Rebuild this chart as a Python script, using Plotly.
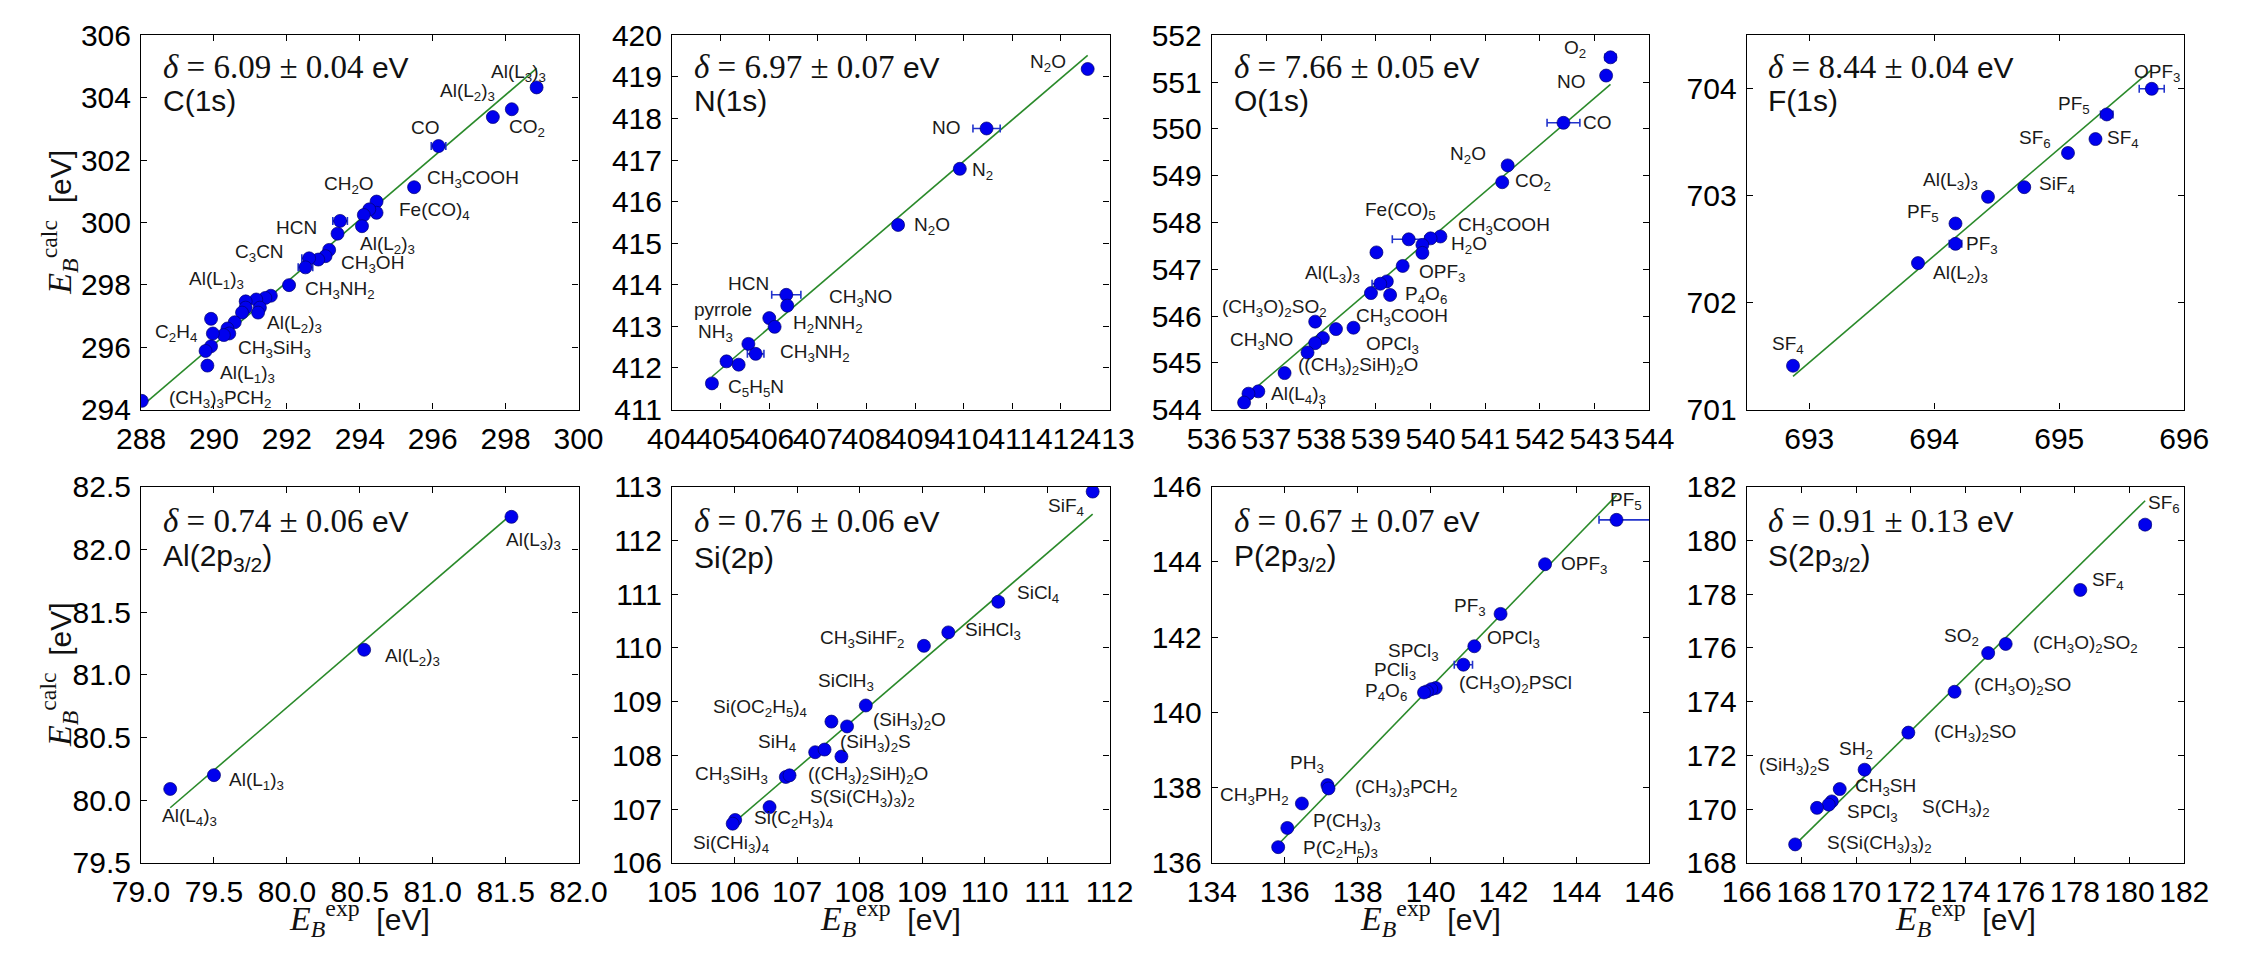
import re
import math
import plotly.graph_objects as go

# ---------------- data ----------------
# C(1s)
C_x = [298.85, 297.65, 298.17, 296.16, 295.49, 294.46, 294.46, 294.26, 294.11, 294.06, 293.46, 293.39,
       293.16, 293.06, 292.86, 292.61, 292.51, 292.06, 291.56, 291.41, 291.16, 291.26, 291.21, 290.87,
       290.87, 290.77, 290.57, 290.37, 290.42, 290.27, 289.92, 289.97, 289.92, 289.77, 289.82, 288.02]
C_y = [304.33, 303.38, 303.63, 302.45, 301.13, 300.67, 300.31, 300.42, 300.24, 299.88, 300.05, 299.64,
       299.12, 298.92, 298.81, 298.85, 298.56, 297.99, 297.65, 297.58, 297.53, 297.27, 297.11, 297.47,
       297.27, 297.11, 296.80, 296.60, 296.44, 296.39, 296.91, 296.44, 296.03, 295.88, 295.41, 294.28]
C_err = [None, None, None, 0.2, None, None, None, 0.1, None, None, 0.2, None,
         None, None, None, 0.2, 0.2, None, None, None, None, None, None, None,
         None, None, None, None, None, None, None, None, None, None, None, None]
C_lab = ["Al(L_3)_3", "Al(L_2)_3", "CO_2", "CO", "CH_3COOH", "CH_2O", "Fe(CO)_4", "HCN", "Al(L_2)_3",
         "C_3CN", "CH_3OH", "Al(L_1)_3", "CH_3NH_2", "Al(L_2)_3", "C_2H_4", "CH_3SiH_3", "Al(L_1)_3",
         "(CH_3)_3PCH_2"]
C_lab_x = [298.35, 296.95, 298.60, 295.79, 297.10, 293.71, 296.06, 292.26, 294.76,
           291.26, 294.36, 290.07, 293.46, 292.21, 288.97, 291.66, 290.91, 290.17]
C_lab_y = [304.79, 304.18, 303.04, 303.04, 301.39, 301.19, 300.36, 299.85, 299.28,
           299.02, 298.66, 298.14, 297.84, 296.75, 296.44, 295.93, 295.15, 294.33]

# N(1s)
N_x = [412.55, 410.47, 409.92, 408.65, 406.35, 406.37, 406.00, 406.11, 405.57, 405.72, 405.12, 405.37, 404.82]
N_y = [419.19, 417.76, 416.79, 415.44, 413.76, 413.50, 413.20, 412.99, 412.58, 412.34, 412.16, 412.08, 411.63]
N_err = [None, 0.28, None, 0.1, 0.3, None, None, None, None, 0.17, None, None, 0.1]
N_lab = ["N_2O", "NO", "N_2", "N_2O", "HCN", "CH_3NO", "pyrrole", "H_2NNH_2", "NH_3", "CH_3NH_2", "C_5H_5N"]
N_lab_x = [411.73, 409.64, 410.39, 409.34, 405.57, 407.88, 405.05, 407.21, 404.90, 406.95, 405.72]
N_lab_y = [419.33, 417.78, 416.74, 415.42, 414.03, 413.68, 413.41, 413.06, 412.83, 412.37, 411.52]

# O(1s)
O_x = [543.29, 543.21, 542.43, 541.41, 541.31, 540.18, 540.00, 539.60, 539.85, 539.85, 539.01, 539.49, 539.20,
       539.08, 538.91, 539.26, 537.89, 538.27, 538.59, 538.03, 537.89, 537.75, 537.33, 536.85, 536.67, 536.59]
O_y = [551.53, 551.14, 550.13, 549.22, 548.86, 547.70, 547.66, 547.64, 547.52, 547.35, 547.36, 547.07, 546.74,
       546.69, 546.49, 546.45, 545.88, 545.72, 545.75, 545.53, 545.42, 545.22, 544.78, 544.39, 544.34, 544.15]
O_err = [0.1, 0.08, 0.3, None, None, None, None, 0.3, None, None, None, None, None,
         0.15, None, None, None, None, None, None, None, None, None, None, None, None]
O_lab = ["O_2", "NO", "CO", "N_2O", "CO_2", "Fe(CO)_5", "CH_3COOH", "H_2O", "Al(L_3)_3", "OPF_3", "P_4O_6",
         "(CH_3O)_2SO_2", "CH_3COOH", "CH_3NO", "OPCl_3", "((CH_3)_2SiH)_2O", "Al(L_4)_3"]
O_lab_x = [542.65, 542.58, 543.05, 540.68, 541.88, 539.45, 541.35, 540.71, 538.21, 540.21, 539.91,
           537.15, 539.48, 536.91, 539.31, 538.68, 537.58]
O_lab_y = [551.71, 551.02, 550.13, 549.44, 548.86, 548.24, 547.93, 547.52, 546.90, 546.93, 546.45,
           546.18, 545.97, 545.46, 545.39, 544.94, 544.32]

# F(1s)
F_x = [695.74, 695.38, 695.29, 695.07, 694.72, 694.43, 694.17, 694.17, 693.87, 692.87]
F_y = [704.00, 703.76, 703.53, 703.40, 703.08, 702.99, 702.74, 702.55, 702.37, 701.41]
F_err = [0.1, 0.05, None, None, None, None, 0.03, 0.05, None, None]
F_lab = ["OPF_3", "PF_5", "SF_4", "SF_6", "SiF_4", "Al(L_3)_3", "PF_5", "PF_3", "Al(L_2)_3", "SF_4"]
F_lab_x = [695.78, 695.12, 695.51, 694.81, 694.98, 694.13, 693.91, 694.38, 694.21, 692.83]
F_lab_y = [704.15, 703.85, 703.53, 703.53, 703.10, 703.14, 702.84, 702.54, 702.27, 701.60]

# Al(2p3/2)
Al_x = [81.54, 80.53, 79.50, 79.20]
Al_y = [82.26, 81.20, 80.20, 80.09]
Al_err = [None, None, None, None]
Al_lab = ["Al(L_3)_3", "Al(L_2)_3", "Al(L_1)_3", "Al(L_4)_3"]
Al_lab_x = [81.69, 80.86, 79.79, 79.33]
Al_lab_y = [82.07, 81.14, 80.15, 79.87]

# Si(2p)
Si_x = [111.73, 110.22, 109.42, 109.03, 108.10, 107.55, 107.80, 107.29, 107.44, 107.71, 106.82, 106.88,
        106.56, 106.01, 105.97]
Si_y = [112.91, 110.86, 110.29, 110.04, 108.93, 108.63, 108.54, 108.06, 108.11, 107.98, 107.60, 107.63,
        107.04, 106.80, 106.73]
Si_err = [None, 0.08, None, None, None, None, None, None, None, None, None, None, None, None, None]
Si_lab = ["SiF_4", "SiCl_4", "SiHCl_3", "CH_3SiHF_2", "SiClH_3", "Si(OC_2H_5)_4", "(SiH_3)_2O", "SiH_4",
          "(SiH_3)_2S", "CH_3SiH_3", "((CH_3)_2SiH)_2O", "S(Si(CH_3)_3)_2", "Si(C_2H_3)_4", "Si(CHi_3)_4"]
Si_lab_x = [111.30, 110.86, 110.14, 108.04, 107.78, 106.41, 108.80, 106.68, 108.25, 105.95, 108.13,
            108.04, 106.94, 105.95]
Si_lab_y = [112.63, 111.00, 110.31, 110.16, 109.37, 108.89, 108.65, 108.23, 108.23, 107.63, 107.63,
            107.20, 106.81, 106.36]

# P(2p3/2)
P_x = [145.10, 143.14, 141.92, 141.20, 140.90, 140.14, 140.02, 139.90, 139.82, 137.17, 137.20, 136.47,
       136.07, 135.82]
P_y = [145.12, 143.94, 142.62, 141.76, 141.27, 140.65, 140.62, 140.56, 140.53, 138.07, 137.98, 137.58,
       136.93, 136.42]
P_err = [0.48, None, 0.05, 0.1, 0.25, None, None, None, None, 0.05, None, None, 0.1, None]
P_err_plus = [0.95, None, 0.05, 0.1, 0.25, None, None, None, None, 0.05, None, None, 0.1, None]
P_lab = ["PF_5", "OPF_3", "PF_3", "OPCl_3", "SPCl_3", "PCli_3", "(CH_3O)_2PSCl", "P_4O_6", "PH_3",
         "(CH_3)_3PCH_2", "CH_3PH_2", "P(CH_3)_3", "P(C_2H_5)_3"]
P_lab_x = [145.37, 144.22, 141.07, 142.27, 139.52, 139.02, 142.32, 138.77, 136.62, 139.32, 135.17,
           137.72, 137.52]
P_lab_y = [145.63, 143.92, 142.81, 141.96, 141.62, 141.10, 140.76, 140.55, 138.62, 137.98, 137.77,
           137.09, 136.36]

# S(2p3/2)
S_x = [180.57, 178.20, 175.47, 174.83, 173.60, 171.91, 170.31, 169.40, 169.11, 169.00, 168.57, 167.77]
S_y = [180.59, 178.16, 176.15, 175.81, 174.37, 172.85, 171.47, 170.75, 170.29, 170.17, 170.05, 168.69]
S_err = [0.2, None, None, None, None, None, None, None, None, None, None, None]
S_lab = ["SF_6", "SF_4", "(CH_3O)_2SO_2", "SO_2", "(CH_3O)_2SO", "(CH_3)_2SO", "SH_2", "(SiH_3)_2S",
         "CH_3SH", "S(CH_3)_2", "SPCl_3", "S(Si(CH_3)_3)_2"]
S_lab_x = [181.27, 179.20, 178.40, 173.87, 176.07, 174.33, 170.00, 167.73, 171.07, 173.67, 170.60, 170.87]
S_lab_y = [181.36, 178.49, 176.15, 176.39, 174.59, 172.85, 172.19, 171.59, 170.81, 170.03, 169.85, 168.71]

# shifts delta and their uncertainties
DELTA = [6.09, 6.97, 7.66, 8.44, 0.74, 0.76, 0.67, 0.91]
DELTA_ERR = [0.04, 0.07, 0.05, 0.04, 0.06, 0.06, 0.07, 0.13]
EDGE = ["C(1s)", "N(1s)", "O(1s)", "F(1s)", "Al(2p_{3/2})", "Si(2p)", "P(2p_{3/2})", "S(2p_{3/2})"]

# axis settings: ranges and tick spacing
X_RANGE = [[288, 300], [404, 413], [536, 544], [692.5, 696], [79.0, 82.0], [105, 112], [134, 146], [166, 182]]
Y_RANGE = [[294, 306], [411, 420], [544, 552], [701, 704.5], [79.5, 82.5], [106, 113], [136, 146], [168, 182]]
X_DTICK = [2, 1, 1, 1, 0.5, 1, 2, 2]
Y_DTICK = [2, 1, 1, 1, 0.5, 1, 2, 2]
TICKFMT = ["d", "d", "d", "d", ".1f", "d", "d", "d"]

# ---------------- figure ----------------
W, H = 2260, 960
LEFTS = [115, 660, 1214, 1763]
PW = 449
ROWS = [(19, 407), (487, 877)]

SANS = "Liberation Sans"
SERIF = "Liberation Serif"
BLUE = "#0000ee"
GREEN = "#2a8a2a"


def chem(s):
    s = s.replace("_{3/2}", "<sub>3/2</sub>")
    return re.sub(r"_(\w)", r"<sub>\1</sub>", s)


def first_tick(lo, step):
    return math.ceil(lo / step - 1e-9) * step


panels = [
    (C_x, C_y, C_err, None, C_lab, C_lab_x, C_lab_y),
    (N_x, N_y, N_err, None, N_lab, N_lab_x, N_lab_y),
    (O_x, O_y, O_err, None, O_lab, O_lab_x, O_lab_y),
    (F_x, F_y, F_err, None, F_lab, F_lab_x, F_lab_y),
    (Al_x, Al_y, Al_err, None, Al_lab, Al_lab_x, Al_lab_y),
    (Si_x, Si_y, Si_err, None, Si_lab, Si_lab_x, Si_lab_y),
    (P_x, P_y, P_err, P_err_plus, P_lab, P_lab_x, P_lab_y),
    (S_x, S_y, S_err, None, S_lab, S_lab_x, S_lab_y),
]

fig = go.Figure()
annotations = []
layout = {}

for i, (xs, ys, err, err_plus, labs, lx, ly) in enumerate(panels):
    n = i + 1
    xa = "x" if n == 1 else f"x{n}"
    ya = "y" if n == 1 else f"y{n}"
    row, col = divmod(i, 4)
    top, bot = ROWS[row]
    left = LEFTS[col]
    xdom = [left / W, (left + PW) / W]
    ydom = [1 - bot / H, 1 - top / H]

    # fit line y = x + delta over the data span
    x0, x1 = min(xs), max(xs)
    fig.add_trace(go.Scatter(x=[x0, x1], y=[x0 + DELTA[i], x1 + DELTA[i]], mode="lines",
                             line=dict(color=GREEN, width=1.6), xaxis=xa, yaxis=ya,
                             showlegend=False, hoverinfo="skip"))
    ex = dict(type="data", array=err_plus if err_plus else err, arrayminus=err,
              symmetric=False, color="#2233cc", thickness=1.6, width=4)
    fig.add_trace(go.Scatter(x=xs, y=ys, mode="markers",
                             marker=dict(size=13, color=BLUE, line=dict(color="#000070", width=0.7)),
                             error_x=ex, xaxis=xa, yaxis=ya, showlegend=False))

    axis_common = dict(showline=True, linecolor="black", linewidth=1.2, mirror="ticks",
                       ticks="inside", ticklen=6, tickwidth=1.1, tickcolor="black",
                       showgrid=False, zeroline=False, tickangle=0,
                       tickfont=dict(family=SANS, size=30, color="black"), tickmode="linear")
    layout["xaxis" if n == 1 else f"xaxis{n}"] = dict(
        axis_common, domain=xdom, range=X_RANGE[i], tick0=first_tick(X_RANGE[i][0], X_DTICK[i]),
        dtick=X_DTICK[i], anchor=ya, tickformat=TICKFMT[i], ticklabelstandoff=2)
    layout["yaxis" if n == 1 else f"yaxis{n}"] = dict(
        axis_common, domain=ydom, range=Y_RANGE[i], tick0=first_tick(Y_RANGE[i][0], Y_DTICK[i]),
        dtick=Y_DTICK[i], anchor=xa, tickformat=TICKFMT[i], ticklabelstandoff=3)

    # data labels
    for t, px, py in zip(labs, lx, ly):
        annotations.append(dict(x=px, y=py, xref=xa, yref=ya, text=chem(t), showarrow=False,
                                xanchor="center", yanchor="middle",
                                font=dict(family=SANS, size=19, color="#1a1a1a")))

    # delta text and core level
    dref_x = f"{xa} domain"
    dref_y = f"{ya} domain"
    dy1 = 0.915 if row == 0 else 0.908
    dy2 = 0.825 if row == 0 else 0.813
    dtext = (f'<span style="font-family:{SERIF};font-size:33px"><i>δ</i> = {DELTA[i]:.2f} ± '
             f'{DELTA_ERR[i]:.2f}</span> eV')
    annotations.append(dict(x=0.045, y=dy1, xref=dref_x, yref=dref_y, text=dtext, showarrow=False,
                            xanchor="left", yanchor="middle", font=dict(family=SANS, size=30, color="#111")))
    annotations.append(dict(x=0.045, y=dy2, xref=dref_x, yref=dref_y, text=chem(EDGE[i]), showarrow=False,
                            xanchor="left", yanchor="middle", font=dict(family=SANS, size=30, color="#111")))

# axis titles
ytitle = (f'<span style="font-family:{SERIF};font-size:34px"><i>E</i><sub><i>B</i></sub>'
          f'<sup>calc</sup></span>  [eV]')
xtitle = (f'<span style="font-family:{SERIF};font-size:34px"><i>E</i><sub><i>B</i></sub>'
          f'<sup>exp</sup></span>  [eV]')
for top, bot in ROWS:
    annotations.append(dict(x=31 / W, y=1 - (top + bot) / 2 / H, xref="paper", yref="paper", text=ytitle,
                            textangle=-90, showarrow=False, xanchor="center", yanchor="middle",
                            font=dict(family=SANS, size=30, color="#111")))
for left in LEFTS:
    annotations.append(dict(x=(left + PW / 2) / W, y=1 - 935 / H, xref="paper", yref="paper", text=xtitle,
                            showarrow=False, xanchor="center", yanchor="middle",
                            font=dict(family=SANS, size=30, color="#111")))

fig.update_layout(width=W, height=H, margin=dict(l=0, r=0, t=0, b=0),
                  paper_bgcolor="white", plot_bgcolor="white",
                  annotations=annotations, **layout)

fig.write_html("out.html", config={"displayModeBar": False},
               post_script="document.body.style.margin='0';document.body.style.overflow='hidden';")
